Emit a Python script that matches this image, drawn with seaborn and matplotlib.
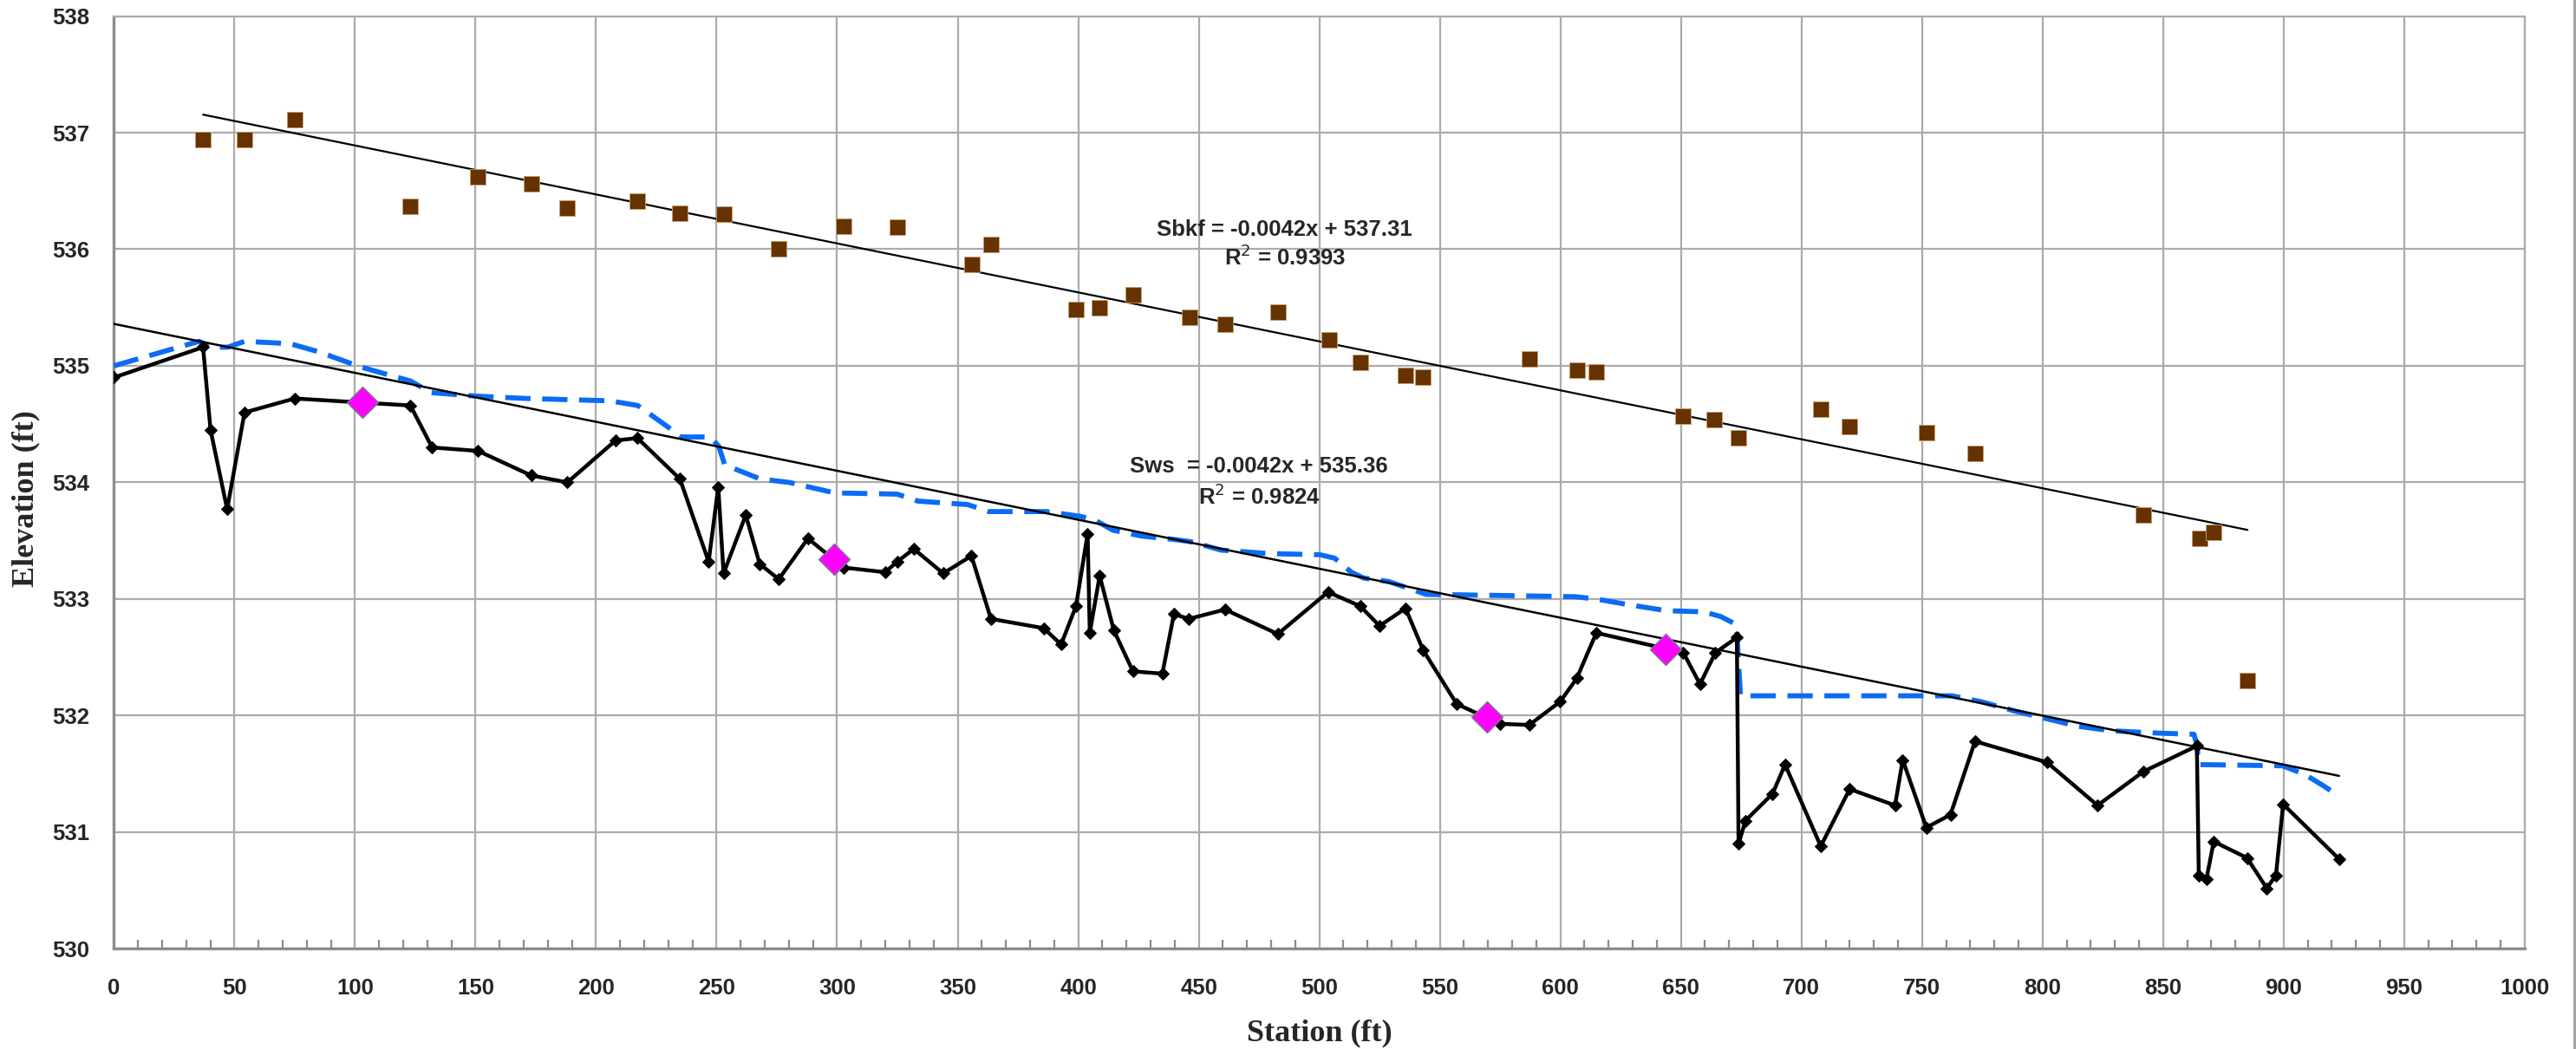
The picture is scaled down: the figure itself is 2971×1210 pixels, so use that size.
import numpy as np
import pandas as pd
import matplotlib
matplotlib.use("Agg")
import matplotlib.pyplot as plt
from matplotlib.ticker import MultipleLocator
from matplotlib.lines import Line2D
import seaborn as sns

# Bankfull indicators (station ft, elevation ft)
bkf_sta = [37.0, 54.2, 75.0, 123.0, 151.1, 173.1, 188.1, 217.2, 234.8, 252.9,
           275.8, 302.7, 324.9, 355.9, 363.8, 399.0, 408.9, 422.7, 446.2, 461.0,
           483.0, 504.0, 516.9, 535.8, 542.9, 587.0, 606.9, 614.9, 650.8, 663.9,
           673.9, 708.0, 720.0, 751.8, 772.0, 841.8, 865.0, 871.0, 885.0]
bkf_elev = [536.94, 536.94, 537.11, 536.37, 536.62, 536.56, 536.35, 536.41, 536.31, 536.30,
            536.00, 536.20, 536.19, 535.87, 536.04, 535.48, 535.50, 535.61, 535.42, 535.36,
            535.46, 535.22, 535.03, 534.92, 534.90, 535.06, 534.96, 534.95, 534.57, 534.54,
            534.38, 534.63, 534.48, 534.43, 534.25, 533.72, 533.52, 533.57, 532.30]

# Thalweg profile
thw_sta = [0, 37.0, 40.1, 47.0, 54.2, 75.0, 123.0, 132.0, 151.1, 173.1,
           188.1, 208.1, 217.2, 234.8, 246.7, 250.7, 252.9, 262.1, 267.9, 275.8,
           287.9, 302.7, 319.9, 324.9, 331.8, 344.0, 355.7, 363.8, 385.7, 392.9,
           399.1, 403.9, 404.8, 408.9, 414.8, 422.7, 434.9, 439.7, 445.9, 460.9,
           482.8, 503.6, 516.9, 525.0, 535.8, 543.1, 557.0, 574.9, 587.1, 599.9,
           606.8, 614.9, 651.0, 657.9, 664.3, 673.2, 673.9, 676.8, 688.0, 693.2,
           708.0, 720.0, 738.8, 742.0, 751.8, 761.8, 772.0, 801.8, 822.8, 841.8,
           864.0, 864.8, 868.0, 871.0, 884.8, 893.0, 896.8, 899.8, 923.0]
thw_elev = [534.90, 535.16, 534.45, 533.77, 534.60, 534.72, 534.66, 534.30, 534.27, 534.06,
            534.00, 534.36, 534.38, 534.03, 533.32, 533.96, 533.22, 533.72, 533.30, 533.17,
            533.52, 533.27, 533.23, 533.32, 533.43, 533.22, 533.37, 532.83, 532.75, 532.61,
            532.94, 533.56, 532.71, 533.20, 532.73, 532.38, 532.36, 532.87, 532.83, 532.91,
            532.70, 533.06, 532.94, 532.77, 532.92, 532.56, 532.10, 531.93, 531.92, 532.12,
            532.32, 532.71, 532.54, 532.27, 532.54, 532.67, 530.90, 531.10, 531.33, 531.58,
            530.88, 531.37, 531.23, 531.62, 531.04, 531.15, 531.78, 531.60, 531.23, 531.52,
            531.74, 530.63, 530.60, 530.92, 530.78, 530.52, 530.63, 531.24, 530.77]

# Water surface profile
ws_sta = [0, 35.3, 40.4, 47.3, 54.2, 73.1, 85.0, 102.4, 123.0, 131.7,
          150.6, 171.2, 205.7, 217.3, 230.2, 235.4, 247.4, 250.9, 253.4, 268.1,
          280.1, 299.1, 324.9, 333.5, 354.2, 362.8, 386.9, 400.7, 406.7, 414.4,
          426.4, 440.3, 447.2, 459.2, 478.8, 500.3, 506.4, 513.3, 518.4, 528.8,
          537.4, 544.3, 577.0, 606.2, 614.9, 628.6, 644.1, 659.6, 666.5, 673.1,
          673.7, 674.7, 762.4, 774.4, 788.4, 800.4, 814.4, 828.4, 848.4, 862.8,
          864.0, 864.8, 899.4, 908.4, 916.4, 923.0]
ws_elev = [535.00, 535.21, 535.16, 535.16, 535.21, 535.19, 535.12, 534.99, 534.87, 534.77,
           534.74, 534.72, 534.70, 534.66, 534.47, 534.39, 534.39, 534.31, 534.15, 534.03,
           534.00, 533.91, 533.90, 533.84, 533.81, 533.75, 533.75, 533.71, 533.68, 533.59,
           533.54, 533.51, 533.49, 533.42, 533.39, 533.38, 533.35, 533.23, 533.18, 533.15,
           533.09, 533.04, 533.03, 533.02, 533.00, 532.95, 532.90, 532.89, 532.85, 532.78,
           532.52, 532.17, 532.17, 532.12, 532.04, 531.98, 531.91, 531.87, 531.85, 531.84,
           531.75, 531.58, 531.57, 531.50, 531.40, 531.31]

# Pool features
pool_sta = [103.1, 298.9, 569.7, 643.8]
pool_elev = [534.69, 533.34, 531.99, 532.57]

# Linear fits as reported
bkf_slope, bkf_icpt, bkf_r2 = -0.0042, 537.31, 0.9393
ws_slope, ws_icpt, ws_r2 = -0.0042, 535.36, 0.9824

x_ticks = list(range(0, 1001, 50))
y_ticks = list(range(530, 539))

sns.set_theme(style="white")
plt.rcParams['font.family'] = ['Liberation Sans', 'DejaVu Sans']

fig = plt.figure(figsize=(29.71, 12.10), dpi=100)
ax = fig.add_axes([0.0442, 0.0955, 0.9359, 0.8892])

grid_c = '#ababab'
for xv in x_ticks:
    ax.axvline(xv, color=grid_c, lw=1.6, zorder=0)
for yv in y_ticks:
    ax.axhline(yv, color=grid_c, lw=1.6, zorder=0)

thw = pd.DataFrame({"Station": thw_sta, "Elevation": thw_elev})
ws = pd.DataFrame({"Station": ws_sta, "Elevation": ws_elev})
bkf = pd.DataFrame({"Station": bkf_sta, "Elevation": bkf_elev})
pool = pd.DataFrame({"Station": pool_sta, "Elevation": pool_elev})

# Trend lines
bx = np.array([min(bkf_sta), max(bkf_sta)])
wx = np.array([min(thw_sta), max(thw_sta)])
trend_b = pd.DataFrame({"Station": bx, "Elevation": bkf_slope * bx + bkf_icpt})
trend_w = pd.DataFrame({"Station": wx, "Elevation": ws_slope * wx + ws_icpt})

sns.lineplot(data=ws, x="Station", y="Elevation", sort=False, estimator=None,
             color='#0a6cf5', lw=4.2, linestyle=(0, (5, 2.3)), ax=ax, zorder=3)
sns.lineplot(data=trend_b, x="Station", y="Elevation", sort=False, estimator=None,
             color='black', lw=1.6, ax=ax, zorder=4)
sns.lineplot(data=trend_w, x="Station", y="Elevation", sort=False, estimator=None,
             color='black', lw=1.8, ax=ax, zorder=4)
sns.lineplot(data=thw, x="Station", y="Elevation", sort=False, estimator=None,
             color='black', lw=3.2, marker='D', markersize=7, markeredgecolor='black',
             ax=ax, zorder=5)
sns.scatterplot(data=bkf, x="Station", y="Elevation", marker='s', s=150,
                color='#663300', edgecolor='#c8a070', linewidth=0.6, ax=ax, zorder=6)
sns.scatterplot(data=pool, x="Station", y="Elevation", marker='D', s=330,
                color='#ff00ff', edgecolor='#8a6a9a', linewidth=1.2, ax=ax, zorder=7)

ax.set_xlim(0, 1000)
ax.set_ylim(530, 538)
ax.set_xticks(x_ticks)
ax.set_yticks(y_ticks)
ax.xaxis.set_minor_locator(MultipleLocator(10))

axis_c = '#8c8c8c'
for side in ['left', 'bottom']:
    ax.spines[side].set_color(axis_c)
    ax.spines[side].set_linewidth(2.4)
for side in ['top', 'right']:
    ax.spines[side].set_color(grid_c)
    ax.spines[side].set_linewidth(1.6)

ax.tick_params(axis='both', which='major', direction='out', length=8, width=2,
               color=axis_c, labelsize=18.5)
ax.tick_params(axis='x', which='major', pad=16)
ax.tick_params(axis='y', which='major', pad=12)
ax.tick_params(axis='x', which='minor', direction='in', length=7, width=1.6,
               color=axis_c, bottom=True)
for lab in ax.get_xticklabels() + ax.get_yticklabels():
    lab.set_fontweight('bold')

serif = ['Liberation Serif', 'DejaVu Serif']
ax.set_xlabel("Station (ft)", fontsize=26, fontweight='bold', family=serif)
ax.set_ylabel("Elevation (ft)", fontsize=26, fontweight='bold', family=serif)
ax.xaxis.set_label_coords(0.5, -0.0905)
ax.xaxis.label.set_va('center')
ax.yaxis.set_label_coords(-0.0365, 0.483)
ax.yaxis.label.set_va('center')

eq_kw = dict(fontsize=18.5, fontweight='bold', ha='center', va='center', zorder=8)
ax.text(485.5, 536.17, f"Sbkf = {bkf_slope}x + {bkf_icpt}", **eq_kw)
ax.text(485.7, 535.93, f"R$^2$ = {bkf_r2}", **eq_kw)
ax.text(475.0, 534.14, f"Sws  = {ws_slope}x + {ws_icpt}", **eq_kw)
ax.text(475.0, 533.88, f"R$^2$ = {ws_r2}", **eq_kw)

# chart frame edge on the right
fig.add_artist(Line2D([0.9993, 0.9993], [0, 1], transform=fig.transFigure,
                      color='#9a9a9a', lw=2))

fig.savefig("out.png", dpi=100, facecolor='white')
